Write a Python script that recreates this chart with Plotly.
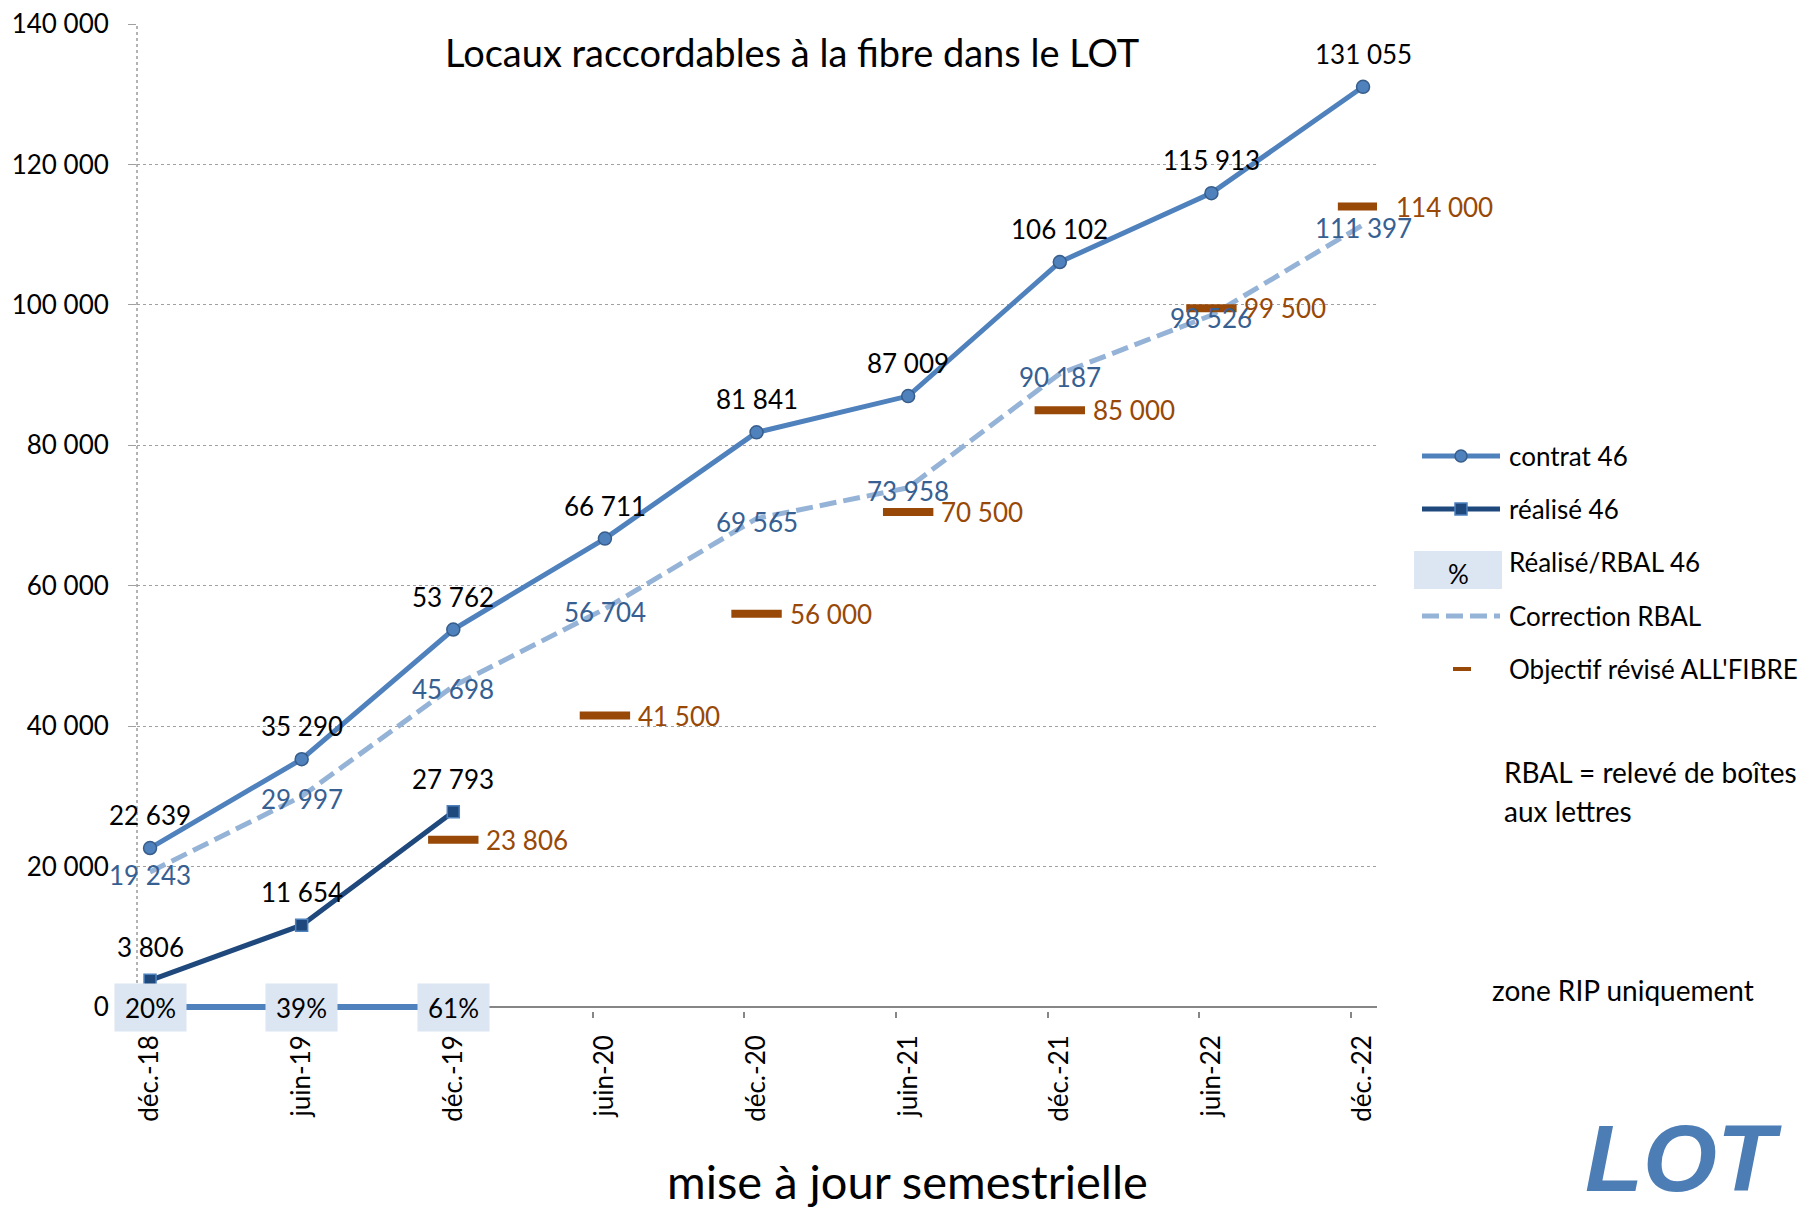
import plotly.graph_objects as go

# ---------------- data ----------------
categories = ["déc.-18", "juin-19", "déc.-19", "juin-20", "déc.-20",
              "juin-21", "déc.-21", "juin-22", "déc.-22"]
contrat = [22639, 35290, 53762, 66711, 81841, 87009, 106102, 115913, 131055]
realise = [3806, 11654, 27793]
correction = [19243, 29997, 45698, 56704, 69565, 73958, 90187, 98526, 111397]
objectif = [None, None, 23806, 41500, 56000, 70500, 85000, 99500, 114000]
ratio_labels = ["20%", "39%", "61%"]
y_ticks = [0, 20000, 40000, 60000, 80000, 100000, 120000, 140000]

# ---------------- style ----------------
FONT = "Lato, 'Open Sans', sans-serif"
C_CONTRAT = "#4F81BD"
C_CONTRAT_EDGE = "#385D8A"
C_REAL = "#1F497D"
C_CORR = "#95B3D7"
C_CORR_TXT = "#376092"
C_OBJ = "#984807"
C_BOX = "#DCE6F2"
FS = 26

PAGE_W, PAGE_H = 1814, 1220
OFF = 8                      # default body margin of the html page
FIG_W, FIG_H = PAGE_W - 2 * OFF, PAGE_H - 2 * OFF
# plot area in page pixels (y=0 at page y 1007, 140000 at 24)
L, R, T, Y0 = 137, 1377, 24, 1007
EXT = 4                      # extra pixels below y=0 so the 0-line is not clipped
B = Y0 + EXT
Y_MAX = 140000
Y_MIN = -EXT * Y_MAX / (Y0 - T)


def px(x):
    return (x - L) / (R - L)


def py(y):
    return (B - y) / (B - T)


def fmt(v):
    return f"{v:,}".replace(",", " ")


xs = list(range(len(categories)))

fig = go.Figure()

# Réalisé/RBAL line at 0
fig.add_trace(go.Scatter(
    x=xs[:len(ratio_labels)], y=[0] * len(ratio_labels), mode="lines",
    line=dict(color=C_CONTRAT, width=6), showlegend=False, hoverinfo="skip"))

# Correction RBAL
fig.add_trace(go.Scatter(
    x=xs, y=correction, mode="lines",
    line=dict(color=C_CORR, width=5, dash="17px,7px"),
    showlegend=False))

# contrat 46
fig.add_trace(go.Scatter(
    x=xs, y=contrat, mode="lines+markers",
    line=dict(color=C_CONTRAT, width=5),
    marker=dict(symbol="circle", size=13, color=C_CONTRAT,
                line=dict(color=C_CONTRAT_EDGE, width=1.5)),
    showlegend=False))

# réalisé 46
fig.add_trace(go.Scatter(
    x=xs[:len(realise)], y=realise, mode="lines+markers",
    line=dict(color=C_REAL, width=5),
    marker=dict(symbol="square", size=12, color=C_REAL,
                line=dict(color=C_CONTRAT, width=1.5)),
    showlegend=False))

# Objectif révisé
fig.add_trace(go.Scatter(
    x=xs, y=objectif, mode="markers",
    marker=dict(symbol="line-ew", size=36,
                line=dict(color=C_OBJ, width=8)),
    showlegend=False))

# ---------------- data labels ----------------
for i, v in enumerate(contrat):
    fig.add_annotation(x=xs[i], y=v, text=fmt(v), showarrow=False, yshift=33,
                       xanchor="center", yanchor="middle",
                       font=dict(family=FONT, size=FS, color="black"))
for i, v in enumerate(realise):
    fig.add_annotation(x=xs[i], y=v, text=fmt(v), showarrow=False, yshift=33,
                       xanchor="center", yanchor="middle",
                       font=dict(family=FONT, size=FS, color="black"))
for i, v in enumerate(correction):
    fig.add_annotation(x=xs[i], y=v, text=fmt(v), showarrow=False, yshift=-3,
                       xanchor="center", yanchor="middle",
                       font=dict(family=FONT, size=FS, color=C_CORR_TXT))
for i, v in enumerate(objectif):
    if v is None:
        continue
    fig.add_annotation(x=xs[i], y=v, text=fmt(v), showarrow=False, xshift=31,
                       xanchor="left", yanchor="middle",
                       font=dict(family=FONT, size=FS, color=C_OBJ))
for i, lab in enumerate(ratio_labels):
    fig.add_annotation(x=xs[i], y=0, text=lab, showarrow=False,
                       xanchor="center", yanchor="middle",
                       width=69, height=45, bgcolor=C_BOX,
                       font=dict(family=FONT, size=FS, color="black"))

# ---------------- dotted y axis line ----------------
fig.add_shape(type="line", xref="paper", yref="y", x0=0, x1=0, y0=0, y1=Y_MAX,
              line=dict(color="#9A9A9A", width=1.5, dash="dot"), layer="below")


def page_text(txt, x, y, size, xanchor="center", color="black", family=FONT):
    fig.add_annotation(xref="paper", yref="paper", x=px(x), y=py(y), text=txt,
                       showarrow=False, xanchor=xanchor, yanchor="middle",
                       font=dict(family=family, size=size, color=color))


# ---------------- title / axis title ----------------
page_text("Locaux raccordables à la fibre dans le LOT", 792, 52, 38)
page_text("mise à jour semestrielle", 907, 1181, 47)

# ---------------- manual legend ----------------
LX0, LX1, TX = 1422, 1500, 1507
LFS = 26
# contrat
fig.add_shape(type="line", xref="paper", yref="paper", x0=px(LX0), x1=px(LX1),
              y0=py(456), y1=py(456), line=dict(color=C_CONTRAT, width=5))
fig.add_shape(type="circle", xref="paper", yref="paper", x0=px(1455), x1=px(1467),
              y0=py(462), y1=py(450), fillcolor=C_CONTRAT,
              line=dict(color=C_CONTRAT_EDGE, width=1.5))
# réalisé
fig.add_shape(type="line", xref="paper", yref="paper", x0=px(LX0), x1=px(LX1),
              y0=py(509), y1=py(509), line=dict(color=C_REAL, width=5))
fig.add_shape(type="rect", xref="paper", yref="paper", x0=px(1455), x1=px(1467),
              y0=py(515), y1=py(503), fillcolor=C_REAL,
              line=dict(color=C_CONTRAT, width=1.5))
# % box
fig.add_shape(type="rect", xref="paper", yref="paper", x0=px(1414), x1=px(1502),
              y0=py(589), y1=py(551), fillcolor=C_BOX, line=dict(width=0))
page_text("%", 1458, 574, FS)
# Correction
fig.add_shape(type="line", xref="paper", yref="paper", x0=px(LX0), x1=px(LX1),
              y0=py(616), y1=py(616), line=dict(color=C_CORR, width=5, dash="17px,7px"))
# Objectif
fig.add_shape(type="rect", xref="paper", yref="paper", x0=px(1453), x1=px(1471),
              y0=py(671), y1=py(667), fillcolor=C_OBJ, line=dict(width=0))

legend_items = [("contrat 46", 456), ("réalisé 46", 509), ("Réalisé/RBAL 46", 562),
                ("Correction RBAL", 616), ("Objectif révisé ALL'FIBRE", 669)]
for txt, yy in legend_items:
    page_text(txt, TX, yy, LFS, xanchor="left")

page_text("RBAL = relevé de boîtes", 1502, 772, 28, xanchor="left")
page_text("aux lettres", 1502, 811, 28, xanchor="left")
page_text("zone RIP uniquement", 1490, 990, 28, xanchor="left")

# logo approximation (text)
page_text("<b><i>LOT</i></b>", 1683, 1158, 95, color="#4D7DB5",
          family="'Liberation Sans Narrow', 'Liberation Sans', sans-serif")

# ---------------- layout ----------------
fig.update_layout(
    width=FIG_W, height=FIG_H,
    margin=dict(l=L - OFF, r=FIG_W - (R - OFF), t=T - OFF, b=FIG_H - (B - OFF),
                pad=0, autoexpand=False),
    paper_bgcolor="white", plot_bgcolor="white",
    separators=", ",
    showlegend=False,
    font=dict(family=FONT, size=FS, color="black"),
    xaxis=dict(
        range=[-0.086, 8.092], tickmode="array", tickvals=xs, ticktext=categories,
        tickangle=-90, showgrid=False, zeroline=False, automargin=False,
        showline=False,
        ticks="",
        minor=dict(tickmode="array", tickvals=[x - 0.08 for x in xs],
                   ticks="outside", ticklen=6, tickcolor="#868686", tickwidth=2,
                   showgrid=False),
        tickfont=dict(family=FONT, size=FS, color="black"),
        ticklabelstandoff=18, layer="below traces"),
    yaxis=dict(
        range=[Y_MIN, Y_MAX], tickmode="array", tickvals=y_ticks, tickformat=",d",
        showgrid=True, gridcolor="#A0A0A0", gridwidth=1, griddash="dot",
        zeroline=True, zerolinecolor="#868686", zerolinewidth=2,
        showline=False, automargin=False, ticklabeloverflow="allow",
        ticks="outside", ticklen=8, tickcolor="#A0A0A0",
        tickfont=dict(family=FONT, size=FS, color="black"),
        ticklabelstandoff=14, layer="below traces"),
)

fig.write_html("out.html")
